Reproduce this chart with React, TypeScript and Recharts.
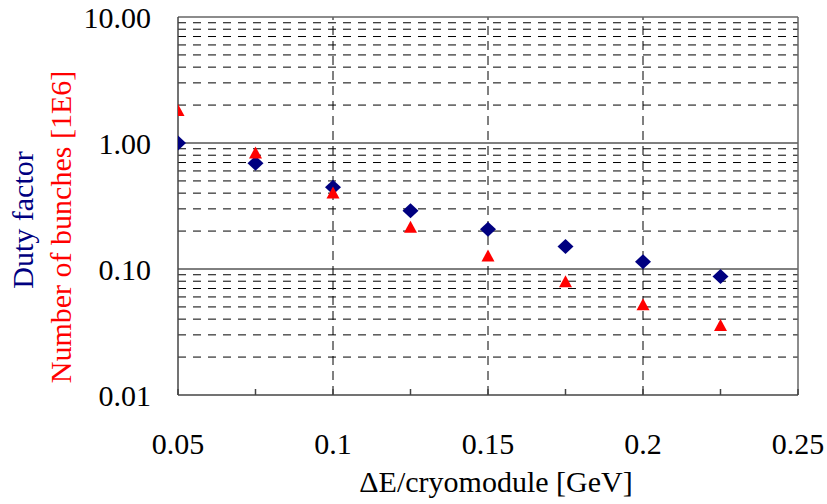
import React from 'react'
import { ScatterChart, Scatter, XAxis, YAxis, ReferenceLine } from 'recharts'

const energies = [0.05, 0.075, 0.1, 0.125, 0.15, 0.175, 0.2, 0.225]
const dutyFactor = [1.0, 0.69, 0.445, 0.29, 0.207, 0.151, 0.114, 0.087]
const bunches = [1.83, 0.84, 0.405, 0.216, 0.128, 0.08, 0.0525, 0.036]

const xTicks = [0.05, 0.075, 0.1, 0.125, 0.15, 0.175, 0.2, 0.225, 0.25]
const xLabelTicks = [0.05, 0.1, 0.15, 0.2, 0.25]
const xGrid = [0.1, 0.15, 0.2]
const yTicks = [0.01, 0.1, 1, 10]
const yMajorGrid = [0.1, 1]
const yMinorGrid = [
    0.02, 0.03, 0.04, 0.05, 0.06, 0.07, 0.08, 0.09,
    0.2, 0.3, 0.4, 0.5, 0.6, 0.7, 0.8, 0.9,
    2, 3, 4, 5, 6, 7, 8, 9,
]

const dutyData = energies.map((x, i) => ({ x, y: dutyFactor[i] }))
const bunchData = energies.map((x, i) => ({ x, y: bunches[i] }))

const FONT = "'Liberation Serif', 'Times New Roman', Times, serif"
const X_TICK_MARGIN = 38

const Diamond = (props: any) => {
    const { cx, cy } = props
    return <path d={`M${cx},${cy - 7.5}L${cx + 8},${cy}L${cx},${cy + 7.5}L${cx - 8},${cy}Z`} fill='#000080' />
}

const Triangle = (props: any) => {
    const { cx, cy } = props
    return <path d={`M${cx},${cy - 6}L${cx + 6.5},${cy + 6}L${cx - 6.5},${cy + 6}Z`} fill='#ff0000' />
}

const XTick = (props: any) => {
    const { x, y, payload } = props
    const v = payload.value
    const axisY = y - X_TICK_MARGIN
    const showLabel = xLabelTicks.some(t => Math.abs(t - v) < 1e-9)
    return (
        <g>
            <line x1={x} x2={x} y1={axisY} y2={axisY - 6} stroke='#444' strokeWidth={1.5} />
            {showLabel && (
                <text x={x} y={y} dy='0.71em' textAnchor='middle' style={{ fontFamily: FONT, fontSize: 30 }} fill='#000'>
                    {String(v)}
                </text>
            )}
        </g>
    )
}

const YLabels = () => (
    <g style={{ fontFamily: FONT, fontSize: 30 }}>
        <text x={33} y={220} transform='rotate(-90, 33, 220)' textAnchor='middle' fill='#000080'>Duty factor</text>
        <text x={71} y={227} transform='rotate(-90, 71, 227)' textAnchor='middle' fill='#ff0000'>Number of bunches [1E6]</text>
    </g>
)

export default function App() {
    return (
        <div style={{ position: 'absolute', left: 0, top: 0, background: '#fff', fontFamily: FONT }}>
            <ScatterChart width={827} height={504} margin={{ top: 17, right: 29, left: 0, bottom: 0 }}
                style={{ fontFamily: FONT }}>
                <XAxis
                    type='number'
                    dataKey='x'
                    domain={[0.05, 0.25]}
                    allowDataOverflow
                    ticks={xTicks}
                    interval={0}
                    height={109}
                    tickSize={0}
                    tickMargin={X_TICK_MARGIN}
                    tick={<XTick />}
                    axisLine={{ stroke: '#444', strokeWidth: 1.5 }}
                    label={() => (
                        <text x={496} y={492} textAnchor='middle' style={{ fontFamily: FONT, fontSize: 30 }} fill='#000'>
                            ΔE/cryomodule [GeV]
                        </text>
                    )}
                />
                <YAxis
                    type='number'
                    dataKey='y'
                    scale='log'
                    domain={[0.01, 10]}
                    allowDataOverflow
                    ticks={yTicks}
                    interval={0}
                    width={178}
                    tickSize={0}
                    tickMargin={27}
                    tickLine={false}
                    tickFormatter={(v: number) => v.toFixed(2)}
                    tick={{ style: { fontFamily: FONT, fontSize: 30 }, fontSize: 30, fill: '#000' }}
                    axisLine={{ stroke: '#444', strokeWidth: 1.5 }}
                    label={() => <YLabels />}
                />
                {yMinorGrid.map(v => (
                    <ReferenceLine key={'ym' + v} y={v} stroke='#000' strokeDasharray='8 7' />
                ))}
                {yMajorGrid.map(v => (
                    <ReferenceLine key={'yM' + v} y={v} stroke='#000' />
                ))}
                {xGrid.map(v => (
                    <ReferenceLine key={'x' + v} x={v} stroke='#000' strokeDasharray='9 6' />
                ))}
                <ReferenceLine y={10} stroke='#666' strokeWidth={1.5} />
                <ReferenceLine x={0.25} stroke='#666' strokeWidth={1.5} />
                <Scatter data={dutyData} shape={Diamond} isAnimationActive={false} />
                <Scatter data={bunchData} shape={Triangle} isAnimationActive={false} />
            </ScatterChart>
        </div>
    )
}
